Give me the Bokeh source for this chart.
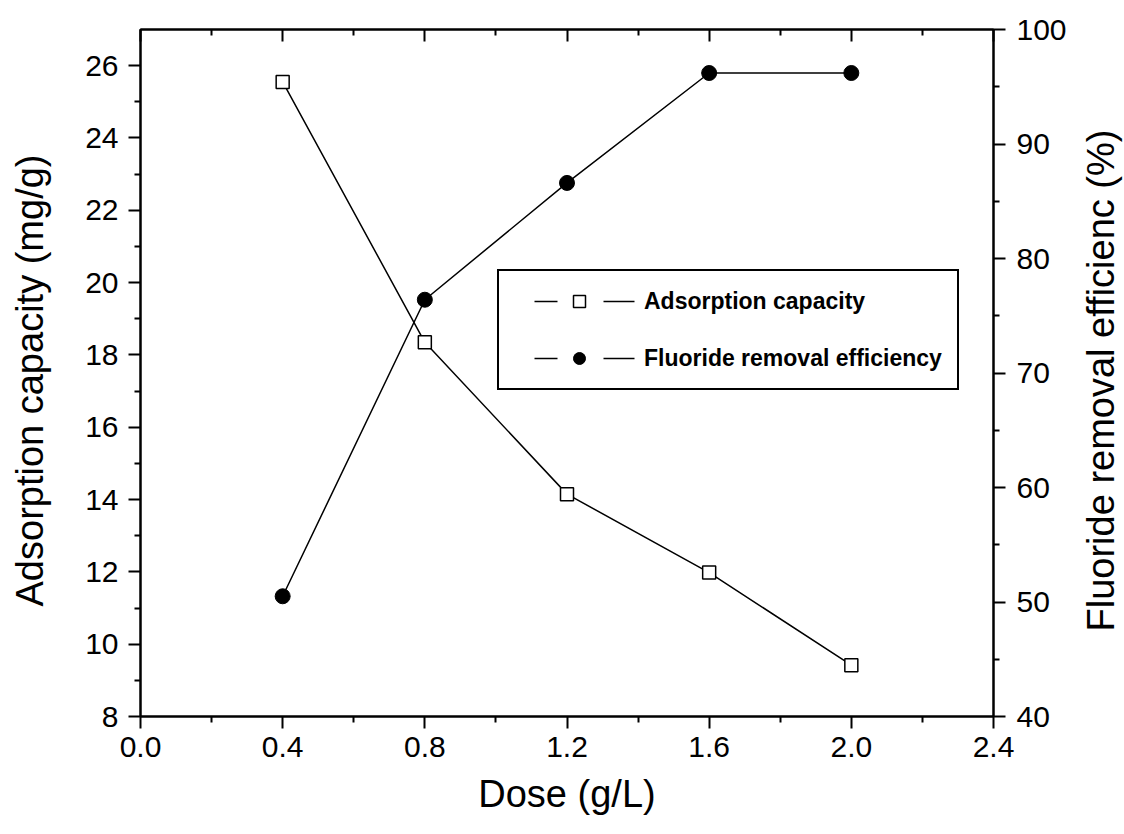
import math
from bokeh.plotting import figure
from bokeh.layouts import row
from bokeh.models import (Range1d, LinearAxis, FixedTicker, PrintfTickFormatter,
                          Legend, LegendItem, Label)
from bokeh.embed import file_html
from bokeh.resources import INLINE

# Dose series and the two measured responses
dose = [0.4, 0.8, 1.2, 1.6, 2.0]
capacity = [25.55, 18.35, 14.15, 11.98, 9.42]          # mg/g
efficiency = [50.5, 76.4, 86.6, 96.2, 96.2]            # %

x_ticks = [0.0, 0.4, 0.8, 1.2, 1.6, 2.0, 2.4]
x_minor = [0.2, 0.6, 1.0, 1.4, 1.8, 2.2]
left_ticks = [8, 10, 12, 14, 16, 18, 20, 22, 24, 26]
left_minor = [9, 11, 13, 15, 17, 19, 21, 23, 25]
right_ticks = [40, 50, 60, 70, 80, 90, 100]
right_minor = [45, 55, 65, 75, 85, 95]

x_title = "Dose (g/L)"
left_title = "Adsorption capacity (mg/g)"
right_title = "Fluoride removal efficienc (%)"

FONT = "Liberation Sans"
TICK_SIZE = "30px"
TITLE_SIZE = "38px"
H = 834
LEFT_W = 60            # narrow strips that carry the vertical titles
RIGHT_W = 50
FRAME_TOP, FRAME_BOTTOM = 29, 716

p = figure(width=1124 - LEFT_W - RIGHT_W, height=H, output_backend="svg",
           toolbar_location=None,
           x_range=Range1d(0, 2.4), y_range=Range1d(8, 27),
           min_border_left=140 - LEFT_W, min_border_right=131 - RIGHT_W,
           min_border_top=FRAME_TOP, min_border_bottom=H - FRAME_BOTTOM)
p.extra_y_ranges = {"eff": Range1d(40, 100)}
p.xgrid.visible = False
p.ygrid.visible = False
p.outline_line_color = "black"
p.outline_line_width = 2
p.background_fill_color = "white"
p.border_fill_color = "white"


def style_axis(ax):
    ax.axis_line_width = 2
    ax.axis_line_color = "black"
    ax.major_tick_line_width = 2
    ax.minor_tick_line_width = 2
    ax.major_tick_line_color = "black"
    ax.minor_tick_line_color = "black"
    ax.major_tick_in = 0
    ax.major_tick_out = 12
    ax.minor_tick_in = 0
    ax.minor_tick_out = 6
    ax.major_label_text_font = FONT
    ax.major_label_text_font_size = TICK_SIZE
    ax.major_label_text_color = "black"
    ax.axis_label_text_font = FONT
    ax.axis_label_text_font_size = TITLE_SIZE
    ax.axis_label_text_font_style = "normal"
    ax.axis_label_text_color = "black"


# bottom axis
xa = p.xaxis[0]
style_axis(xa)
xa.ticker = FixedTicker(ticks=x_ticks, minor_ticks=x_minor)
xa.formatter = PrintfTickFormatter(format="%.1f")
xa.axis_label = x_title
xa.major_label_standoff = 8
xa.axis_label_standoff = 13

# left axis
ya = p.yaxis[0]
style_axis(ya)
ya.ticker = FixedTicker(ticks=left_ticks, minor_ticks=left_minor)
ya.formatter = PrintfTickFormatter(format="%d")
ya.major_label_standoff = 10

# right axis
ra = LinearAxis(y_range_name="eff")
style_axis(ra)
ra.ticker = FixedTicker(ticks=right_ticks, minor_ticks=right_minor)
ra.formatter = PrintfTickFormatter(format="%d")
ra.major_label_standoff = 11
p.add_layout(ra, "right")

# top axis: ticks only, pointing inward
ta = LinearAxis()
style_axis(ta)
ta.ticker = FixedTicker(ticks=x_ticks, minor_ticks=x_minor)
ta.major_tick_in = 12
ta.major_tick_out = 0
ta.minor_tick_in = 6
ta.minor_tick_out = 0
ta.major_label_text_font_size = "0px"
ta.major_label_text_color = None
ta.major_label_standoff = 0
p.add_layout(ta, "above")

# series
cap_line = p.line(dose, capacity, line_color="black", line_width=1.5)
cap_pts = p.scatter(dose, capacity, marker="square", size=13,
                    fill_color="white", line_color="black", line_width=1.5)

eff_line = p.line(dose, efficiency, line_color="black", line_width=1.5,
                  y_range_name="eff")
eff_pts = p.scatter(dose, efficiency, marker="circle", size=15,
                    fill_color="black", line_color="black",
                    y_range_name="eff")

# legend key line: short segments on both sides of the marker
# (a single NaN point, so nothing shows inside the frame)
key_dash = "0 20 23 46 31 100"
nan = float("nan")
cap_key = p.line(x=[nan], y=[nan], line_color="black", line_width=1.5,
                 line_dash=key_dash)
eff_key = p.line(x=[nan], y=[nan], line_color="black", line_width=1.5,
                 line_dash=key_dash, y_range_name="eff")

legend = Legend(items=[
    LegendItem(label="Adsorption capacity", renderers=[cap_key, cap_pts]),
    LegendItem(label="Fluoride removal efficiency", renderers=[eff_key, eff_pts]),
], location=(357, 326))
legend.label_text_font = FONT
legend.label_text_font_size = "23px"
legend.label_text_font_style = "bold"
legend.label_text_color = "black"
legend.glyph_width = 130
legend.glyph_height = 30
legend.spacing = 27
legend.padding = 15
legend.margin = 0
legend.label_standoff = 0
legend.border_line_color = "black"
legend.border_line_alpha = 1
legend.border_line_width = 2
legend.background_fill_color = "white"
legend.background_fill_alpha = 1
p.add_layout(legend, "center")

TITLE_CENTER_Y = 380   # from the top of the page


def title_strip(text, width, anchor_x):
    """A narrow blank panel holding one vertical title, reading bottom-to-top.

    In the row its frame lines up with the main frame, so y is measured
    from the main frame's bottom edge."""
    s = figure(width=width, height=H, output_backend="svg", toolbar_location=None,
               x_range=Range1d(0, 1), y_range=Range1d(0, 1),
               x_axis_location=None, y_axis_location=None,
               min_border_left=0, min_border_right=0,
               min_border_top=FRAME_TOP, min_border_bottom=H - FRAME_BOTTOM)
    s.xgrid.visible = False
    s.ygrid.visible = False
    s.outline_line_color = None
    s.background_fill_color = "white"
    s.border_fill_color = "white"
    s.add_layout(Label(x=anchor_x, y=FRAME_BOTTOM - TITLE_CENTER_Y,
                       x_units="screen", y_units="screen",
                       text=text, angle=math.pi / 2,
                       text_align="center", text_baseline="alphabetic",
                       text_font=FONT, text_font_size=TITLE_SIZE,
                       text_color="black"))
    return s


left_strip = title_strip(left_title, LEFT_W, 29)
right_strip = title_strip(right_title, RIGHT_W, 26)

layout = row(left_strip, p, right_strip, spacing=0)
open("out.html", "w").write(file_html(layout, INLINE))
